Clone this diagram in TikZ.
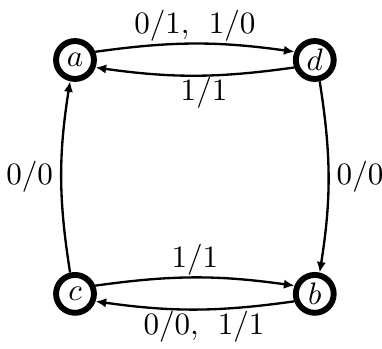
\documentclass[tikz,border=0pt]{standalone}
\usetikzlibrary{positioning,arrows.meta}

\begin{document}
\begin{tikzpicture}[node distance=75.3pt and 77.2pt, on grid,
        state/.style={draw, circle, line width=1.9pt, minimum size=12.2pt, inner sep=0pt},
        trans/.style={-{Latex[length=3.4pt, width=3pt]}, line width=0.75pt},
        lbl/.style={inner sep=0.3pt}]
        \node[state] (a) {$a$};
        \node[state, right=of a] (d) {$d$};
        \node[state, below=of a] (c) {$c$};
        \node[state, below=of d] (b) {$b$};

        \useasboundingbox (a) ++(-24.15pt,19.32pt) rectangle ++(123pt,-112.06pt);

        \draw[trans] (a.22) to[bend left=8] node[lbl, above] {$0/1,\hspace{4.5pt}1/0$} (d.158);
        \draw[trans] (d.200) to[bend left=8] node[lbl, below, pos=0.45] {$1/1$} (a.-20);
        \draw[trans] (c.103) to[bend left=9] node[lbl, left=2pt] {$0/0$} (a.257);
        \draw[trans] (d.283) to[bend left=9] node[lbl, right=2pt] {$0/0$} (b.77);
        \draw[trans] (c.22) to[bend left=8] node[lbl, above] {$1/1$} (b.158);
        \draw[trans] (b.200) to[bend left=8] node[lbl, below, pos=0.45] {$0/0,\hspace{4.5pt}1/1$} (c.-20);
    \end{tikzpicture}
\end{document}
